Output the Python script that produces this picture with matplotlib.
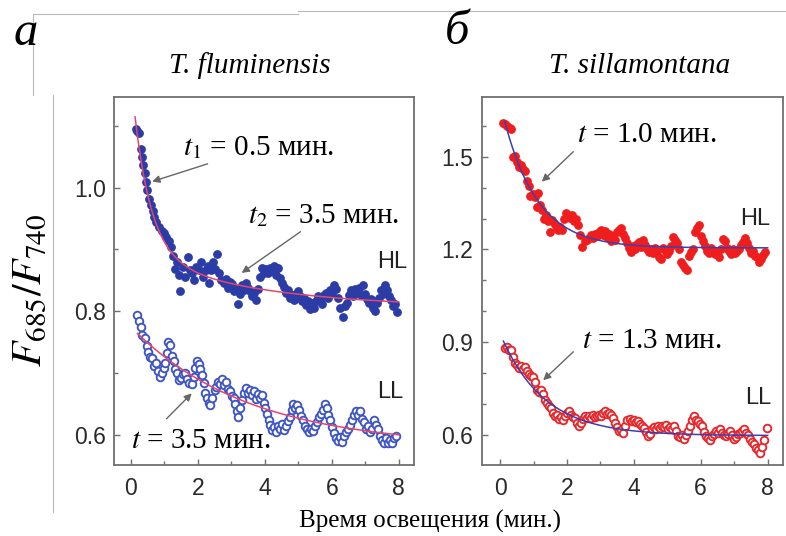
import numpy as np
import matplotlib
matplotlib.use('Agg')
import matplotlib.pyplot as plt
from matplotlib.lines import Line2D

plt.rcParams['font.family'] = ['Liberation Sans', 'DejaVu Sans']
plt.rcParams['mathtext.fontset'] = 'stix'

# --- T. fluminensis, high light (filled) ---
fl_hl_t = [0.15, 0.20, 0.25, 0.30, 0.35, 0.38, 0.42, 0.46, 0.50, 0.55,
           0.60, 0.65, 0.70, 0.76, 0.84, 0.92, 0.98, 1.06, 1.14, 1.20,
           1.26, 1.33, 1.38, 1.43, 1.48, 1.55, 1.62, 1.70, 1.76, 1.83,
           1.90, 1.96, 2.04, 2.10, 2.17, 2.24, 2.30, 2.34, 2.40, 2.46,
           2.52, 2.58, 2.64, 2.70, 2.77, 2.84, 2.90, 2.96, 3.02, 3.08,
           3.14, 3.20, 3.26, 3.32, 3.38, 3.44, 3.50, 3.56, 3.62, 3.68,
           3.73, 3.80, 3.86, 3.92, 3.98, 4.04, 4.10, 4.16, 4.22, 4.28,
           4.33, 4.40, 4.46, 4.52, 4.58, 4.64, 4.70, 4.76, 4.82, 4.88,
           4.94, 5.00, 5.06, 5.12, 5.18, 5.24, 5.30, 5.36, 5.42, 5.48,
           5.54, 5.60, 5.66, 5.72, 5.78, 5.84, 5.90, 5.96, 6.02, 6.08,
           6.14, 6.20, 6.26, 6.33, 6.40, 6.46, 6.52, 6.58, 6.64, 6.70,
           6.76, 6.82, 6.88, 6.94, 7.00, 7.06, 7.12, 7.18, 7.24, 7.30,
           7.36, 7.42, 7.48, 7.54, 7.60, 7.66, 7.72, 7.78, 7.84, 7.90,
           7.95]
fl_hl_r = [1.095, 1.092, 1.088, 1.062, 1.050, 1.037, 1.024, 1.010, 0.997, 0.982,
           0.972, 0.962, 0.952, 0.944, 0.937, 0.930, 0.927, 0.920, 0.913, 0.904,
           0.889, 0.868, 0.880, 0.859, 0.832, 0.872, 0.856, 0.888, 0.866, 0.862,
           0.850, 0.872, 0.866, 0.880, 0.856, 0.866, 0.874, 0.846, 0.866, 0.880,
           0.868, 0.892, 0.862, 0.850, 0.846, 0.852, 0.838, 0.848, 0.844, 0.832,
           0.836, 0.812, 0.828, 0.842, 0.834, 0.846, 0.838, 0.832, 0.824, 0.830,
           0.818, 0.836, 0.856, 0.870, 0.862, 0.868, 0.862, 0.870, 0.866, 0.874,
           0.858, 0.870, 0.854, 0.846, 0.840, 0.830, 0.834, 0.822, 0.826, 0.818,
           0.828, 0.832, 0.824, 0.816, 0.822, 0.810, 0.816, 0.804, 0.814, 0.806,
           0.816, 0.824, 0.818, 0.812, 0.826, 0.830, 0.822, 0.834, 0.830, 0.842,
           0.836, 0.822, 0.806, 0.790, 0.808, 0.814, 0.826, 0.834, 0.824, 0.836,
           0.830, 0.838, 0.826, 0.842, 0.828, 0.820, 0.814, 0.820, 0.806, 0.800,
           0.814, 0.822, 0.834, 0.828, 0.842, 0.834, 0.824, 0.818, 0.808, 0.812,
           0.798]

# --- T. fluminensis, low light (open) ---
fl_ll_t = [0.18, 0.24, 0.30, 0.35, 0.42, 0.48, 0.53, 0.58, 0.64, 0.70,
           0.76, 0.80, 0.86, 0.92, 0.98, 1.03, 1.08, 1.12, 1.18, 1.23,
           1.28, 1.33, 1.38, 1.43, 1.50, 1.56, 1.63, 1.68, 1.75, 1.82,
           1.88, 1.93, 1.97, 2.03, 2.08, 2.13, 2.18, 2.22, 2.27, 2.33,
           2.38, 2.44, 2.50, 2.55, 2.61, 2.67, 2.73, 2.78, 2.84, 2.90,
           2.95, 3.01, 3.07, 3.12, 3.17, 3.21, 3.27, 3.32, 3.37, 3.43,
           3.49, 3.55, 3.61, 3.67, 3.73, 3.79, 3.85, 3.91, 3.97, 4.02,
           4.07, 4.12, 4.17, 4.23, 4.29, 4.34, 4.40, 4.46, 4.52, 4.58,
           4.63, 4.69, 4.75, 4.80, 4.85, 4.91, 4.97, 5.02, 5.08, 5.14,
           5.19, 5.25, 5.31, 5.37, 5.43, 5.49, 5.55, 5.61, 5.67, 5.73,
           5.79, 5.85, 5.90, 5.96, 6.02, 6.07, 6.13, 6.19, 6.25, 6.31,
           6.37, 6.43, 6.49, 6.55, 6.61, 6.67, 6.73, 6.79, 6.85, 6.91,
           6.97, 7.03, 7.09, 7.15, 7.21, 7.27, 7.33, 7.39, 7.45, 7.51,
           7.57, 7.63, 7.69, 7.75, 7.81, 7.87, 7.93]
fl_ll_r = [0.794, 0.784, 0.774, 0.762, 0.756, 0.744, 0.734, 0.726, 0.724, 0.712,
           0.716, 0.704, 0.694, 0.700, 0.708, 0.716, 0.732, 0.750, 0.746, 0.728,
           0.720, 0.706, 0.700, 0.688, 0.692, 0.698, 0.700, 0.690, 0.684, 0.682,
           0.694, 0.708, 0.720, 0.714, 0.706, 0.696, 0.684, 0.668, 0.660, 0.652,
           0.648, 0.660, 0.672, 0.678, 0.686, 0.682, 0.690, 0.680, 0.686, 0.674,
           0.670, 0.662, 0.660, 0.650, 0.638, 0.628, 0.644, 0.656, 0.668, 0.676,
           0.668, 0.672, 0.664, 0.670, 0.658, 0.666, 0.660, 0.664, 0.652, 0.644,
           0.634, 0.624, 0.616, 0.608, 0.612, 0.604, 0.614, 0.610, 0.618, 0.608,
           0.614, 0.622, 0.628, 0.640, 0.650, 0.644, 0.648, 0.640, 0.630, 0.624,
           0.614, 0.610, 0.604, 0.610, 0.606, 0.614, 0.620, 0.628, 0.634, 0.640,
           0.650, 0.644, 0.632, 0.624, 0.612, 0.602, 0.594, 0.590, 0.596, 0.588,
           0.598, 0.604, 0.610, 0.616, 0.624, 0.632, 0.638, 0.632, 0.638, 0.626,
           0.620, 0.610, 0.614, 0.604, 0.610, 0.624, 0.616, 0.610, 0.598, 0.592,
           0.586, 0.594, 0.586, 0.592, 0.586, 0.594, 0.598]

# --- T. sillamontana, high light (filled) ---
ts_hl_t = [0.09, 0.15, 0.22, 0.29, 0.34, 0.40, 0.46, 0.52, 0.57, 0.63,
           0.69, 0.75, 0.81, 0.86, 0.91, 0.97, 1.03, 1.09, 1.14, 1.20,
           1.26, 1.32, 1.38, 1.43, 1.49, 1.55, 1.61, 1.67, 1.73, 1.80,
           1.86, 1.92, 1.98, 2.04, 2.10, 2.16, 2.22, 2.28, 2.34, 2.40,
           2.46, 2.53, 2.59, 2.65, 2.71, 2.77, 2.83, 2.89, 2.95, 3.01,
           3.07, 3.13, 3.19, 3.25, 3.31, 3.37, 3.43, 3.49, 3.55, 3.61,
           3.67, 3.73, 3.79, 3.85, 3.91, 3.97, 4.03, 4.09, 4.15, 4.21,
           4.27, 4.33, 4.39, 4.45, 4.51, 4.57, 4.63, 4.69, 4.75, 4.80,
           4.86, 4.92, 4.98, 5.04, 5.10, 5.16, 5.22, 5.28, 5.34, 5.40,
           5.46, 5.52, 5.58, 5.64, 5.70, 5.76, 5.82, 5.88, 5.94, 6.00,
           6.06, 6.12, 6.18, 6.24, 6.30, 6.36, 6.42, 6.48, 6.54, 6.60,
           6.66, 6.72, 6.78, 6.84, 6.90, 6.96, 7.02, 7.08, 7.14, 7.20,
           7.26, 7.32, 7.38, 7.44, 7.50, 7.56, 7.62, 7.68, 7.74, 7.80,
           7.86, 7.92]
ts_hl_r = [1.610, 1.604, 1.600, 1.592, 1.588, 1.498, 1.502, 1.484, 1.466, 1.472,
           1.460, 1.452, 1.420, 1.404, 1.372, 1.380, 1.368, 1.336, 1.382, 1.344,
           1.326, 1.300, 1.310, 1.292, 1.256, 1.296, 1.284, 1.276, 1.262, 1.274,
           1.262, 1.300, 1.318, 1.310, 1.302, 1.312, 1.292, 1.300, 1.278, 1.246,
           1.208, 1.226, 1.232, 1.238, 1.246, 1.236, 1.250, 1.244, 1.256, 1.262,
           1.248, 1.258, 1.240, 1.250, 1.228, 1.240, 1.232, 1.256, 1.264, 1.270,
           1.250, 1.238, 1.222, 1.204, 1.192, 1.210, 1.200, 1.216, 1.224, 1.208,
           1.232, 1.214, 1.200, 1.192, 1.200, 1.188, 1.204, 1.196, 1.176, 1.168,
           1.206, 1.198, 1.186, 1.196, 1.210, 1.240, 1.232, 1.222, 1.200, 1.160,
           1.150, 1.140, 1.132, 1.180, 1.192, 1.200, 1.256, 1.270, 1.280, 1.244,
           1.228, 1.212, 1.196, 1.190, 1.204, 1.198, 1.184, 1.192, 1.176, 1.200,
           1.234, 1.226, 1.204, 1.196, 1.186, 1.200, 1.188, 1.196, 1.202, 1.214,
           1.224, 1.236, 1.220, 1.206, 1.188, 1.196, 1.180, 1.174, 1.160, 1.170,
           1.182, 1.192]

# --- T. sillamontana, low light (open) ---
ts_ll_t = [0.15, 0.21, 0.27, 0.33, 0.39, 0.45, 0.51, 0.57, 0.63, 0.69,
           0.75, 0.81, 0.87, 0.93, 0.99, 1.05, 1.11, 1.17, 1.23, 1.29,
           1.35, 1.41, 1.47, 1.53, 1.59, 1.65, 1.71, 1.77, 1.83, 1.89,
           1.95, 2.01, 2.07, 2.13, 2.19, 2.25, 2.31, 2.37, 2.43, 2.49,
           2.55, 2.61, 2.67, 2.73, 2.79, 2.85, 2.91, 2.97, 3.03, 3.09,
           3.15, 3.21, 3.27, 3.33, 3.39, 3.45, 3.51, 3.57, 3.63, 3.69,
           3.75, 3.81, 3.87, 3.93, 3.99, 4.05, 4.11, 4.17, 4.23, 4.29,
           4.35, 4.41, 4.47, 4.53, 4.59, 4.65, 4.71, 4.77, 4.83, 4.89,
           4.95, 5.01, 5.07, 5.13, 5.19, 5.25, 5.31, 5.37, 5.43, 5.49,
           5.55, 5.61, 5.67, 5.73, 5.79, 5.85, 5.91, 5.97, 6.03, 6.09,
           6.15, 6.21, 6.27, 6.33, 6.39, 6.45, 6.51, 6.57, 6.63, 6.69,
           6.75, 6.81, 6.87, 6.93, 6.99, 7.05, 7.11, 7.17, 7.23, 7.29,
           7.35, 7.41, 7.47, 7.53, 7.59, 7.65, 7.71, 7.77, 7.83, 7.89,
           7.97]
ts_ll_r = [0.880, 0.886, 0.874, 0.876, 0.852, 0.832, 0.826, 0.818, 0.822, 0.814,
           0.820, 0.806, 0.796, 0.792, 0.788, 0.770, 0.746, 0.740, 0.744, 0.732,
           0.714, 0.702, 0.694, 0.686, 0.672, 0.660, 0.664, 0.652, 0.658, 0.650,
           0.662, 0.670, 0.676, 0.664, 0.658, 0.654, 0.640, 0.628, 0.640, 0.652,
           0.660, 0.654, 0.662, 0.656, 0.664, 0.658, 0.662, 0.666, 0.660, 0.672,
           0.676, 0.668, 0.672, 0.664, 0.656, 0.640, 0.626, 0.614, 0.616, 0.608,
           0.628, 0.648, 0.652, 0.644, 0.650, 0.642, 0.646, 0.636, 0.630, 0.624,
           0.610, 0.598, 0.604, 0.618, 0.626, 0.620, 0.628, 0.622, 0.630, 0.626,
           0.632, 0.620, 0.626, 0.620, 0.628, 0.612, 0.598, 0.594, 0.600, 0.588,
           0.600, 0.612, 0.630, 0.648, 0.660, 0.650, 0.646, 0.636, 0.628, 0.610,
           0.596, 0.590, 0.584, 0.596, 0.604, 0.612, 0.608, 0.618, 0.608, 0.600,
           0.596, 0.604, 0.612, 0.600, 0.588, 0.594, 0.602, 0.608, 0.612, 0.618,
           0.606, 0.600, 0.588, 0.578, 0.570, 0.558, 0.552, 0.542, 0.560, 0.584,
           0.622]

# exponential fits: offset, amplitudes, time constants (min)
fl_hl_fit = dict(y0=0.806, a=[0.288, 0.090], tau=[0.5, 3.5])
fl_ll_fit = dict(y0=0.580, a=[0.195], tau=[3.5])
ts_hl_fit = dict(y0=1.205, a=[0.470], tau=[1.0])
ts_ll_fit = dict(y0=0.598, a=[0.330], tau=[1.3])


def fit_curve(fit, t):
    y = np.full_like(t, fit['y0'])
    for a, tau in zip(fit['a'], fit['tau']):
        y += a * np.exp(-t / tau)
    return y


BLUE_DOT = '#2b3ca6'
BLUE_RING = '#3f55c2'
RED_DOT = '#ef1d1d'
RED_RING = '#e5282b'
PINK_LINE = '#e6456f'
BLUE_LINE = '#3c3fb2'
ARROW = dict(arrowstyle='-|>', color='#666666', lw=1.0, mutation_scale=11,
             shrinkA=0, shrinkB=0)
SERIF = 'Liberation Serif'

fig = plt.figure(figsize=(7.86, 5.36), dpi=100)
ax1 = fig.add_axes([0.145, 0.1325, 0.382, 0.6866])
ax2 = fig.add_axes([0.6128, 0.1325, 0.383, 0.6866])

# left panel
ax1.plot(fl_hl_t, fl_hl_r, 'o', ms=5.3, color=BLUE_DOT, mec=BLUE_DOT, zorder=2)
ax1.plot(fl_ll_t, fl_ll_r, 'o', ms=5.5, mfc='white', mec=BLUE_RING, mew=1.35, zorder=2)
tt = np.linspace(0.13, 8.0, 300)
ax1.plot(tt, fit_curve(fl_hl_fit, tt), color=PINK_LINE, lw=1.1, zorder=3)
tt = np.linspace(0.2, 8.0, 300)
ax1.plot(tt, fit_curve(fl_ll_fit, tt), color=PINK_LINE, lw=1.1, zorder=3)

# right panel
ax2.plot(ts_hl_t, ts_hl_r, 'o', ms=5.3, color=RED_DOT, mec=RED_DOT, zorder=2)
ax2.plot(ts_ll_t, ts_ll_r, 'o', ms=5.5, mfc='white', mec=RED_RING, mew=1.35, zorder=2)
tt = np.linspace(0.14, 8.0, 300)
ax2.plot(tt, fit_curve(ts_hl_fit, tt), color=BLUE_LINE, lw=1.1, zorder=3)
tt = np.linspace(0.1, 8.0, 300)
ax2.plot(tt, fit_curve(ts_ll_fit, tt), color=BLUE_LINE, lw=1.1, zorder=3)

ax1.set_xlim(-0.5, 8.46)
ax1.set_ylim(0.551, 1.147)
ax1.set_yticks([0.6, 0.8, 1.0])
ax1.set_yticks([0.7, 0.9, 1.1], minor=True)
ax2.set_xlim(-0.55, 8.45)
ax2.set_ylim(0.503, 1.693)
ax2.set_yticks([0.6, 0.9, 1.2, 1.5])
ax2.set_yticks([0.7, 0.8, 1.0, 1.1, 1.3, 1.4, 1.6], minor=True)

for ax in (ax1, ax2):
    ax.set_xticks([0, 2, 4, 6, 8])
    ax.set_xticks([1, 3, 5, 7], minor=True)
    for s in ax.spines.values():
        s.set_color('#707070')
        s.set_linewidth(1.3)
    ax.tick_params(which='both', direction='in', color='#707070', width=1.0,
                   labelsize=16.5, labelcolor='#2a2a2a')
    ax.tick_params(axis='y', pad=6)
    ax.tick_params(axis='x', pad=9)
    ax.tick_params(which='major', length=4)
    ax.tick_params(which='minor', length=3)
    ax.yaxis.set_major_formatter(matplotlib.ticker.FormatStrFormatter('%.1f'))

# annotations, left
ann = dict(fontsize=21, family=[SERIF, 'DejaVu Serif'])
lab = dict(ha='center', va='center', fontsize=17, color='#222222')
ax1.annotate(r'$t_1$ = 0.5 мин.', xy=(0.64, 1.01), xytext=(1.55, 1.065),
             ha='left', va='center', arrowprops=ARROW, **ann)
ax1.annotate(r'$t_2$ = 3.5 мин.', xy=(3.31, 0.862), xytext=(3.5, 0.955),
             ha='left', va='center', arrowprops=ARROW, **ann)
ax1.annotate('', xy=(1.82, 0.667), xytext=(1.07, 0.626), arrowprops=ARROW)
ax1.text(2.1, 0.59, r'$t$ = 3.5 мин.', ha='center', va='center', **ann)
ax1.text(7.8, 0.88, 'HL', **lab)
ax1.text(7.74, 0.669, 'LL', **lab)

# annotations, right
ax2.text(4.38, 1.57, r'$t$ = 1.0 мин.', ha='center', va='center', **ann)
ax2.annotate('', xy=(1.25, 1.419), xytext=(2.19, 1.516), arrowprops=ARROW)
ax2.text(4.55, 0.903, r'$t$ = 1.3 мин.', ha='center', va='center', **ann)
ax2.annotate('', xy=(1.29, 0.777), xytext=(2.19, 0.869), arrowprops=ARROW)
ax2.text(7.62, 1.30, 'HL', **lab)
ax2.text(7.71, 0.719, 'LL', **lab)

# panel letters and titles
fig.text(0.033, 0.938, 'а', fontsize=35, style='italic', family=SERIF,
         ha='center', va='center')
fig.text(0.581, 0.94, 'б', fontsize=35, style='italic', family=SERIF,
         ha='center', va='center')
fig.text(0.318, 0.877, 'T. fluminensis', fontsize=21, style='italic',
         family=SERIF, ha='center', va='center')
fig.text(0.814, 0.877, 'T. sillamontana', fontsize=21, style='italic',
         family=SERIF, ha='center', va='center')
fig.text(0.038, 0.459, r'$F_{685}/F_{740}$', fontsize=30, rotation=90,
         ha='center', va='center')
fig.text(0.547, 0.028, 'Время освещения (мин.)', fontsize=18, family=SERIF,
         ha='center', va='center')

# thin frame lines at the page edges
W, H = 786, 536
frame = [((33, 14), (298, 14)), ((298, 11), (786, 11)), ((33, 14), (33, 95)),
         ((53, 95), (53, 512))]
for (x0, y0), (x1, y1) in frame:
    fig.add_artist(Line2D([x0 / W, x1 / W], [1 - y0 / H, 1 - y1 / H],
                          color='#b8b8b8', lw=0.8))

fig.savefig('out.png', dpi=100)
